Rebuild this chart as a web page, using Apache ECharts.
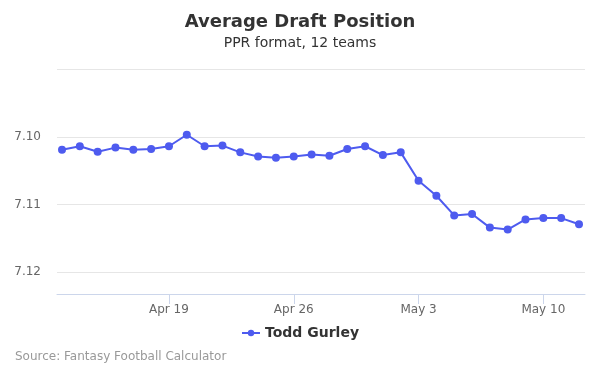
<!DOCTYPE html>
<html><head><meta charset="utf-8">
<script src="https://cdn.jsdelivr.net/npm/echarts@6/dist/echarts.min.js"></script>
<style>html,body{margin:0;padding:0;background:#fff}#c{width:600px;height:375px}</style>
</head><body><div id="c"></div>
<script>
var categories = ['Apr 13','Apr 14','Apr 15','Apr 16','Apr 17','Apr 18','Apr 19','Apr 20','Apr 21','Apr 22','Apr 23','Apr 24','Apr 25','Apr 26','Apr 27','Apr 28','Apr 29','Apr 30','May 1','May 2','May 3','May 4','May 5','May 6','May 7','May 8','May 9','May 10','May 11','May 12'];
var adpValues = [7.1019,7.1014,7.1022,7.1016,7.1019,7.1018,7.1014,7.0997,7.1014,7.1013,7.1023,7.1029,7.1031,7.1029,7.1026,7.1028,7.1018,7.1014,7.1027,7.1023,7.1065,7.1087,7.1116,7.1114,7.1134,7.1137,7.1122,7.1120,7.1120,7.1129];
var labeledTicks = ['Apr 19','Apr 26','May 3','May 10'];
var seriesName = 'Todd Gurley';
var FONT = '"DejaVu Sans", sans-serif';
var yMin = 7.09, yMax = 7.1232, yStep = 0.01;
function isLabeled(i, v){ return labeledTicks.indexOf(v) >= 0; }
var chart = echarts.init(document.getElementById('c'));
chart.setOption({
  animation: false,
  title: {
    text: 'Average Draft Position', subtext: 'PPR format, 12 teams', left: 'center', top: 8, itemGap: 5,
    textStyle: {fontFamily: FONT, fontSize: 18, fontWeight: 'bold', color: '#333'},
    subtextStyle: {fontFamily: FONT, fontSize: 14, color: '#333'}
  },
  legend: {
    data: [seriesName], bottom: 30, left: 'center', itemWidth: 18, itemHeight: 8, itemGap: 5,
    textStyle: {fontFamily: FONT, fontSize: 14, fontWeight: 'bold', color: '#333'}
  },
  graphic: [{type: 'text', left: 15, top: 351, style: {text: 'Source: Fantasy Football Calculator', fontFamily: FONT, fontSize: 12, fill: '#999'}}],
  grid: [
    {left: 57, right: 15, top: 69, bottom: 81},
    {left: 62, right: 21, top: 69, bottom: 81}
  ],
  xAxis: [
    {gridIndex: 0, type: 'category', data: categories, boundaryGap: false,
     axisLine: {lineStyle: {color: '#ccd6eb'}}, axisTick: {show: false}, axisLabel: {show: false}, splitLine: {show: false}},
    {gridIndex: 1, type: 'category', data: categories, boundaryGap: false,
     axisLine: {show: false},
     axisTick: {show: true, length: 10, lineStyle: {color: '#ccd6eb'}, interval: isLabeled},
     axisLabel: {interval: isLabeled, color: '#666', fontFamily: FONT, fontSize: 12, margin: 10},
     splitLine: {show: false}}
  ],
  yAxis: [
    {gridIndex: 0, type: 'value', inverse: true, min: yMin, max: yMax, interval: yStep,
     axisLine: {show: false}, axisTick: {show: false},
     axisLabel: {color: '#666', fontFamily: FONT, fontSize: 12, margin: 16,
       formatter: function(v){ var r = Math.round(v*100)/100; if (Math.abs(r-yMin) < 1e-6 || Math.abs(v - r) > 1e-6) return ''; return r.toFixed(2);} },
     splitLine: {lineStyle: {color: '#e6e6e6'}}},
    {gridIndex: 1, type: 'value', inverse: true, min: yMin, max: yMax, interval: yStep,
     axisLine: {show: false}, axisTick: {show: false}, axisLabel: {show: false}, splitLine: {show: false}}
  ],
  series: [{
    name: seriesName, type: 'line', xAxisIndex: 1, yAxisIndex: 1, data: adpValues, symbol: 'circle', symbolSize: 8,
    itemStyle: {color: '#4e5bef'}, lineStyle: {color: '#4e5bef', width: 2}
  }]
});
</script></body></html>
